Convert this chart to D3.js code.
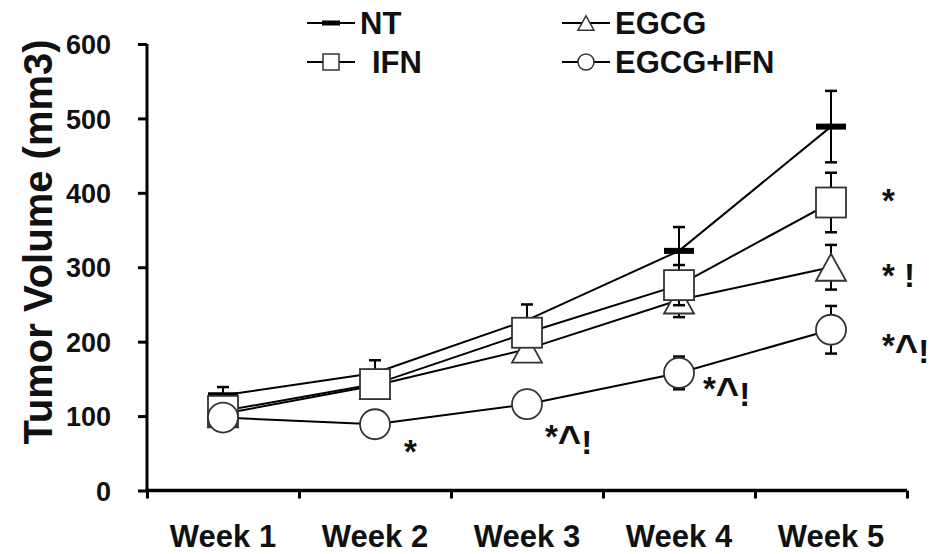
<!DOCTYPE html>
<html>
<head>
<meta charset="utf-8">
<script src="https://cdn.jsdelivr.net/npm/d3@7"></script>
<style>
  html, body { margin: 0; padding: 0; background: #fff; }
  svg { display: block; font-family: "Liberation Sans", Arial, sans-serif; font-weight: bold; }
</style>
</head>
<body>
<svg id="chart" width="945" height="554"></svg>
<script>
// ---- Data ----
const weeks = ["Week 1", "Week 2", "Week 3", "Week 4", "Week 5"];
const yTicks = [0, 100, 200, 300, 400, 500, 600];
const seriesNames = ["NT", "EGCG", "IFN", "EGCG+IFN"];
const ntValues = [128, 158, 229, 322, 489];
const ntErrors = [11, 17, 21, 32, 48];
const egcgValues = [103, 141, 190, 256, 300];
const egcgErrors = [6, 10, 12, 23, 30];
const ifnValues = [107, 143, 212, 276, 387];
const ifnErrors = [8, 12, 15, 27, 40];
const comboValues = [98, 89, 116, 158, 216];
const comboErrors = [5, 6, 8, 22, 32];
// significance annotations: [week index, series, label]
const annotWeek = [1, 2, 3, 4, 4, 4];
const annotSeries = ["EGCG+IFN", "EGCG+IFN", "EGCG+IFN", "IFN", "EGCG", "EGCG+IFN"];
const annotText = ["*", "*^!", "*^!", "*", "* !", "*^!"];

const series = [
  { name: "NT", values: ntValues, errors: ntErrors, marker: "bar" },
  { name: "EGCG", values: egcgValues, errors: egcgErrors, marker: "triangle" },
  { name: "IFN", values: ifnValues, errors: ifnErrors, marker: "square" },
  { name: "EGCG+IFN", values: comboValues, errors: comboErrors, marker: "circle" }
];

// ---- Layout ----
const svg = d3.select("#chart");
const x0 = 147, x1 = 907, yTop = 44, yBot = 490.5;
const x = d3.scaleBand().domain(weeks).range([x0, x1]);
const xb = d3.scaleLinear().domain([0, weeks.length]).range([x0, x1]);
const y = d3.scaleLinear().domain([0, 600]).range([yBot, yTop]);
const cx = w => x(w) + x.bandwidth() / 2;

// ---- Axes ----
const yAxis = svg.append("g").attr("transform", `translate(${x0},0)`)
  .call(d3.axisLeft(y).tickValues(yTicks).tickSize(9).tickPadding(27).tickSizeOuter(0));
yAxis.select(".domain").attr("stroke", "#000").attr("stroke-width", 3)
  .attr("d", `M0,${yTop}V${yBot}`);
yAxis.selectAll(".tick line").attr("stroke", "#000").attr("stroke-width", 3);
yAxis.selectAll(".tick text").attr("font-size", 27).attr("font-weight", "bold")
  .attr("fill", "#111").attr("font-family", "Liberation Sans, Arial, sans-serif").attr("dy", "0.36em");

const xTickAxis = svg.append("g").attr("transform", `translate(0,${yBot})`)
  .call(d3.axisBottom(xb).tickValues(d3.range(weeks.length + 1)).tickSize(8).tickFormat(""));
xTickAxis.select(".domain").attr("stroke", "#000").attr("stroke-width", 3.5)
  .attr("d", `M${x0 - 1.5},0H${x1}`);
xTickAxis.selectAll(".tick line").attr("stroke", "#000").attr("stroke-width", 3);

const xLabelAxis = svg.append("g").attr("transform", `translate(0,${yBot})`)
  .call(d3.axisBottom(x).tickSize(0).tickPadding(34));
xLabelAxis.select(".domain").remove();
xLabelAxis.selectAll(".tick text").attr("font-size", 31).attr("font-weight", "bold")
  .attr("fill", "#111").attr("font-family", "Liberation Sans, Arial, sans-serif");

// y title
svg.append("text")
  .attr("transform", `translate(52,242) rotate(-90)`)
  .attr("text-anchor", "middle")
  .attr("font-size", 40)
  .attr("fill", "#111")
  .text("Tumor Volume (mm3)");

// ---- Marker drawing ----
function drawMarker(g, type, size, sw) {
  const h = size / 2;
  if (type === "bar") {
    g.append("rect").attr("x", -h).attr("y", -3).attr("width", size).attr("height", 6).attr("fill", "#000");
  } else if (type === "square") {
    g.append("rect").attr("x", -h).attr("y", -h).attr("width", size).attr("height", size)
      .attr("fill", "#fff").attr("stroke", "#333").attr("stroke-width", sw);
  } else if (type === "triangle") {
    const th = size * 0.9;
    g.append("path").attr("d", `M0,${-th / 2}L${h},${th / 2}L${-h},${th / 2}Z`)
      .attr("fill", "#fff").attr("stroke", "#333").attr("stroke-width", sw);
  } else if (type === "circle") {
    g.append("circle").attr("r", h).attr("fill", "#fff").attr("stroke", "#333").attr("stroke-width", sw);
  }
}

const line = d3.line().x((d, i) => cx(weeks[i])).y(d => y(d));

// lines (under everything)
series.forEach(s => {
  svg.append("path").datum(s.values).attr("d", line)
    .attr("fill", "none").attr("stroke", "#000").attr("stroke-width", 2);
});

// error bars + markers per series in order
series.forEach(s => {
  const g = svg.append("g");
  s.values.forEach((v, i) => {
    const px = cx(weeks[i]);
    const hi = y(v + s.errors[i]), lo = y(v - s.errors[i]);
    g.append("line").attr("x1", px).attr("x2", px).attr("y1", hi).attr("y2", lo)
      .attr("stroke", "#000").attr("stroke-width", 2);
    [hi, lo].forEach(yy => g.append("line").attr("x1", px - 6).attr("x2", px + 6)
      .attr("y1", yy).attr("y2", yy).attr("stroke", "#000").attr("stroke-width", 2.5));
  });
  s.values.forEach((v, i) => {
    const m = g.append("g").attr("transform", `translate(${cx(weeks[i])},${y(v)})`);
    drawMarker(m, s.marker, 30, 1.8);
  });
});

// ---- Annotations ----
const annotOffset = { "EGCG+IFN": [18, 44], "IFN": [51, 9], "EGCG": [51, 20] };
annotText.forEach((t, k) => {
  const s = series.find(d => d.name === annotSeries[k]);
  const wi = annotWeek[k];
  let [dx, dy] = annotOffset[annotSeries[k]];
  if (annotSeries[k] === "EGCG+IFN" && wi === 4) { dx = 51; dy = 27; }
  if (annotSeries[k] === "EGCG+IFN" && wi === 1) { dx = 29; dy = 39; }
  if (annotSeries[k] === "EGCG+IFN" && wi === 3) { dx = 24; dy = 27; }
  const txt = svg.append("text")
    .attr("x", cx(weeks[wi]) + dx).attr("y", y(s.values[wi]) + dy)
    .attr("font-size", 33).attr("fill", "#111")
    .attr("xml:space", "preserve");
  t.split("").forEach(ch => {
    txt.append("tspan").attr("font-size", ch === "^" ? 40 : 33)
      .attr("dy", ch === "^" ? 6 : 0)
      .text(ch);
    if (ch === "^") txt.append("tspan").attr("dy", -6).text("");
  });
});

// ---- Legend ----
const legendItems = [
  { name: "NT", marker: "bar", lx: 307, ly: 23, tx: 360 },
  { name: "EGCG", marker: "triangle", lx: 562, ly: 23, tx: 615 },
  { name: "IFN", marker: "square", lx: 307, ly: 62, tx: 372 },
  { name: "EGCG+IFN", marker: "circle", lx: 562, ly: 62, tx: 615 }
];
legendItems.forEach(it => {
  const g = svg.append("g");
  g.append("line").attr("x1", it.lx).attr("x2", it.lx + 48).attr("y1", it.ly).attr("y2", it.ly)
    .attr("stroke", "#000").attr("stroke-width", 2);
  const m = g.append("g").attr("transform", `translate(${it.lx + 24},${it.ly})`);
  if (it.marker === "bar") {
    m.append("rect").attr("x", -9).attr("y", -2.5).attr("width", 18).attr("height", 5).attr("fill", "#000");
  } else {
    drawMarker(m, it.marker, 16, 1.5);
  }
  g.append("text").attr("x", it.tx).attr("y", it.ly + 11).attr("font-size", 31).attr("fill", "#111").text(it.name);
});
</script>
</body>
</html>
